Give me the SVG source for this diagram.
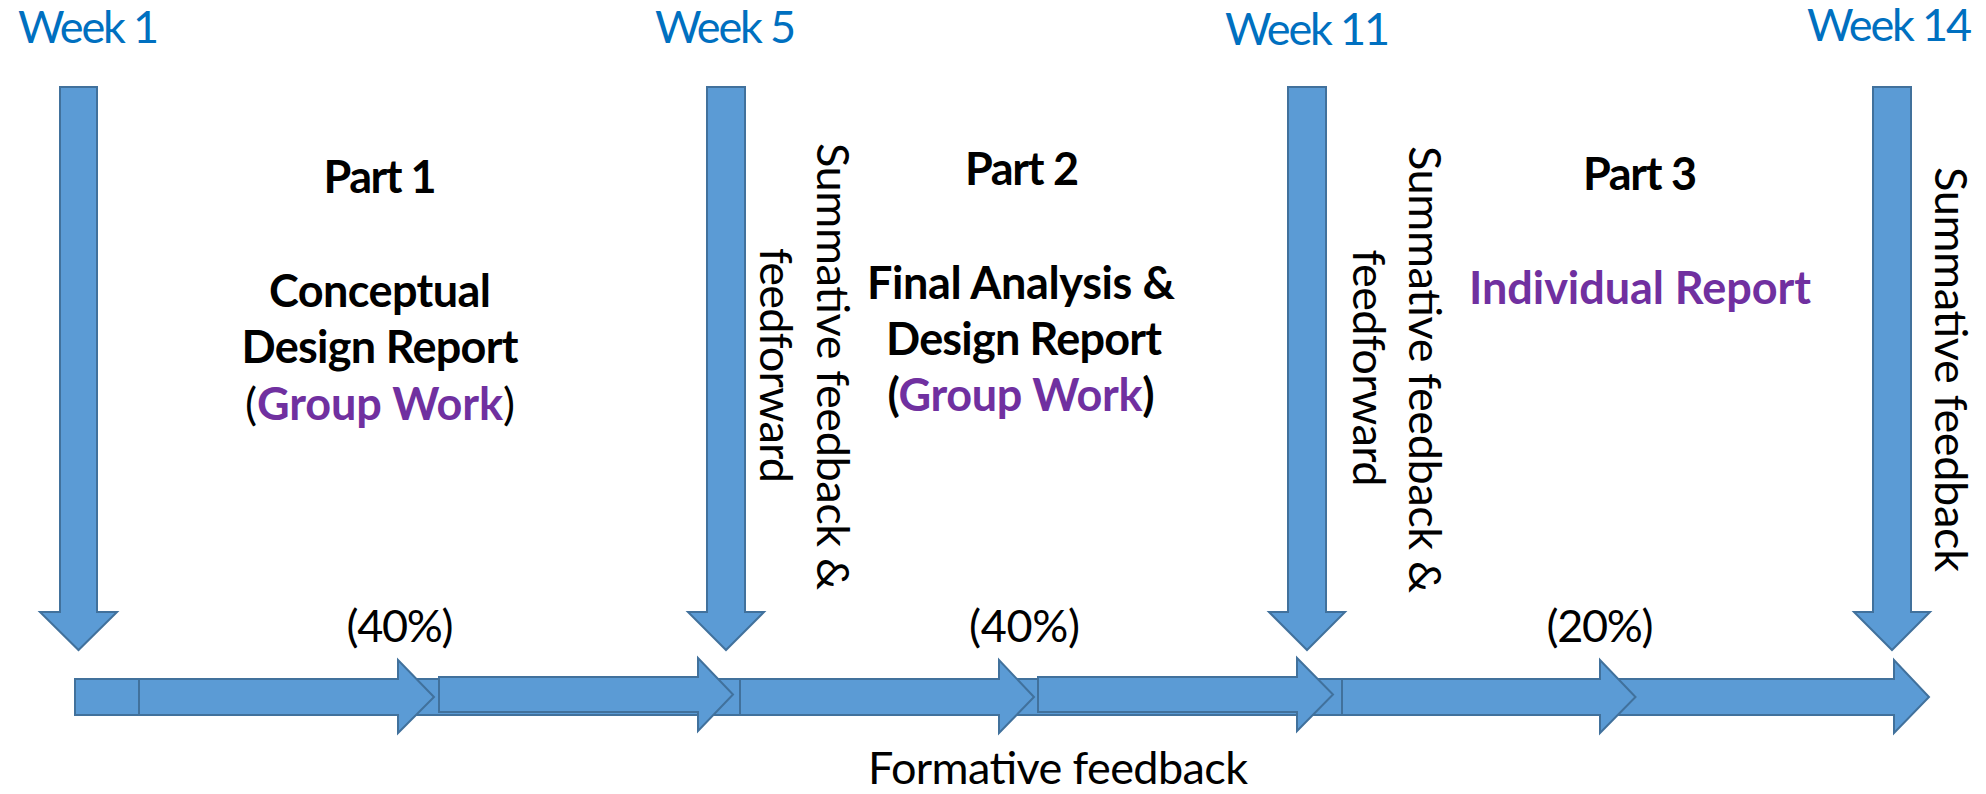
<svg xmlns="http://www.w3.org/2000/svg" width="1986" height="794" viewBox="0 0 1986 794">
<style>
.shape{fill:#5B9BD5;stroke:#41719C;stroke-width:2;stroke-linejoin:miter}
text{font-family:Lato,"Liberation Sans",sans-serif;font-size:45px;fill:#000}
.week{fill:#0070C0}
.b{font-weight:bold}
.pur{fill:#7030A0;font-weight:bold}
.mid{text-anchor:middle}
</style>
<rect width="1986" height="794" fill="#fff"/>
<g id="connectors">
  <rect id="base-bar" class="shape" x="75" y="679" width="1560" height="36"/>
  <rect id="start-seg" class="shape" x="75" y="679" width="64" height="36"/>
  <path id="arrow-f" class="shape" d="M1615,679 H1894 V660 L1929,697 L1894,733 V715 H1615 Z"/>
  <path id="arrow-a" class="shape" d="M139,679 H398 V660 L434,697 L398,733 V715 H139 Z"/>
  <path id="arrow-b" class="shape" d="M439,677 H698 V658 L733,694.5 L698,731 V712 H439 Z"/>
  <path id="arrow-c" class="shape" d="M740,679 H999 V660 L1034,697 L999,733 V715 H740 Z"/>
  <path id="arrow-d" class="shape" d="M1038,677 H1297 V658 L1333,694.5 L1297,731 V712 H1038 Z"/>
  <path id="arrow-e" class="shape" d="M1342,679 H1600 V660 L1635.5,697 L1600,733 V715 H1342 Z"/>
</g>
<g id="week1">
  <path class="shape" d="M60,87 H97 V612 H117 L78.5,650 L40,612 H60 Z"/>
  <text class="week" x="18" y="43" textLength="141">Week 1</text>
</g>
<g id="week5">
  <path class="shape" d="M707,87 H745 V612 H764 L726,650 L688,612 H707 Z"/>
  <text class="week" x="655" y="43" textLength="141">Week 5</text>
</g>
<g id="week11">
  <path class="shape" d="M1288,87 H1326 V612 H1345 L1307,650 L1269,612 H1288 Z"/>
  <text class="week" x="1225" y="45" textLength="165">Week 11</text>
</g>
<g id="week14">
  <path class="shape" d="M1873,87 H1911 V612 H1930 L1892,650 L1854,612 H1873 Z"/>
  <text class="week" x="1807" y="41" textLength="165">Week 14</text>
</g>
<g id="part1">
  <text class="b mid" x="380" y="193" textLength="113">Part 1</text>
  <text class="b mid" x="380" y="307" textLength="222">Conceptual</text>
  <text class="b mid" x="380" y="363" textLength="277">Design Report</text>
  <text class="mid" x="380" y="420" textLength="270">(<tspan class="pur">Group Work</tspan>)</text>
  <text class="mid" x="400" y="642" textLength="107">(40%)</text>
</g>
<g id="part2">
  <text class="b mid" x="1022" y="185" textLength="114">Part 2</text>
  <text class="b mid" x="1021" y="299" textLength="308">Final Analysis &amp;</text>
  <text class="b mid" x="1024" y="355" textLength="276">Design Report</text>
  <text class="b mid" x="1021" y="411" textLength="267">(<tspan class="pur">Group Work</tspan>)</text>
  <text class="mid" x="1024.5" y="642" textLength="111">(40%)</text>
</g>
<g id="part3">
  <text class="b mid" x="1640" y="190" textLength="114">Part 3</text>
  <text class="pur mid" x="1640" y="304" textLength="342">Individual Report</text>
  <text class="mid" x="1600" y="642" textLength="107">(20%)</text>
</g>
<g id="feedback-week5">
  <text class="mid" transform="translate(817,366.5) rotate(90)" textLength="447">Summative feedback &amp;</text>
  <text class="mid" transform="translate(760,365.5) rotate(90)" textLength="235">feedforward</text>
</g>
<g id="feedback-week11">
  <text class="mid" transform="translate(1409,369.5) rotate(90)" textLength="447">Summative feedback &amp;</text>
  <text class="mid" transform="translate(1352.5,368) rotate(90)" textLength="237">feedforward</text>
</g>
<g id="feedback-week14">
  <text class="mid" transform="translate(1935,369.5) rotate(90)" textLength="405">Summative feedback</text>
</g>
<g id="formative">
  <text class="mid" x="1058" y="784" textLength="380">Formative feedback</text>
</g>
</svg>
